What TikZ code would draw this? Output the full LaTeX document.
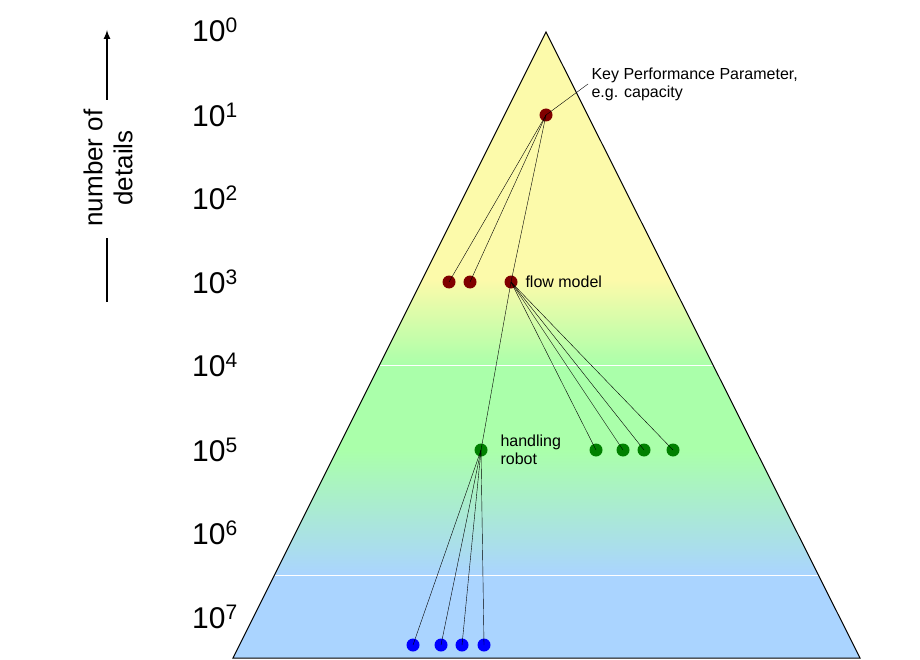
\documentclass[tikz,border=0pt]{standalone}
\usepackage{fontspec}
\setmainfont{Liberation Sans}
\begin{document}
\begin{tikzpicture}[x=1pt,y=-1pt,
  dotr/.style={circle,fill=red!50!black,inner sep=0pt,minimum size=13pt},
  dotg/.style={circle,fill=green!50!black,inner sep=0pt,minimum size=13pt},
  dotb/.style={circle,fill=blue,inner sep=0pt,minimum size=13pt},
  lab/.style={font=\fontsize{16}{18}\selectfont,align=left,anchor=west},
  pw/.style={font=\fontsize{30}{32}\selectfont,anchor=center}]
\useasboundingbox (0,0) rectangle (920,660);
\definecolor{cy}{RGB}{252,250,170}
\definecolor{cg}{RGB}{170,255,170}
\definecolor{cb}{RGB}{170,212,255}
\begin{scope}
\clip (546,32) -- (860,658) -- (233,658) -- cycle;
\fill[cy] (200,30) rectangle (900,281);
\shade[top color=cy,bottom color=cg] (200,280) rectangle (900,366);
\fill[cg] (200,365) rectangle (900,451);
\shade[top color=cg,bottom color=cb] (200,450) rectangle (900,576);
\fill[cb] (200,575) rectangle (900,660);
\draw[white,line width=0.6pt] (200,365) -- (900,365) (200,575) -- (900,575);
\end{scope}
\draw[line width=1pt] (546,32) -- (860,658) -- (233,658) -- cycle;
\foreach \e/\y in {0/30,1/115,2/198,3/282,4/365,5/450,6/533,7/617}
  \node[pw] (p\e) at (215,\y) {10\textsuperscript{\e}};
\node[rotate=90,font=\fontsize{26}{30}\selectfont,align=center] (nd) at (108,168) {number of\\details};
\coordinate (l1) at (107,302); \coordinate (l2) at (107,238);
\coordinate (a1) at (107,100); \coordinate (a2) at (107,30);
\draw[line width=2pt] (l1) -- (l2);
\draw[line width=2pt,-latex] (a1) -- (a2);
\node[dotr] (k) at (546,115) {};
\node[dotr] (r1) at (449,282) {};
\node[dotr] (r2) at (470,282) {};
\node[dotr] (r3) at (511,282) {};
\node[dotg] (h) at (481,450) {};
\node[dotg] (g1) at (596,450) {};
\node[dotg] (g2) at (623,450) {};
\node[dotg] (g3) at (644,450) {};
\node[dotg] (g4) at (673,450) {};
\node[dotb] (b1) at (413,645) {};
\node[dotb] (b2) at (441,645) {};
\node[dotb] (b3) at (462,645) {};
\node[dotb] (b4) at (484,645) {};
\foreach \t in {r1,r2,r3} \draw (k.center) -- (\t.center);
\foreach \t in {h,g1,g2,g3,g4} \draw (r3.center) -- (\t.center);
\foreach \t in {b1,b2,b3,b4} \draw (h.center) -- (\t.center);
\node[lab] (kt) at (588,84) {Key Performance Parameter,\\e.g. capacity};
\draw (k.center) -- (kt.west);
\node[lab] at (522,282) {flow model};
\node[lab] at (497,450) {handling\\robot};
\end{tikzpicture}
\end{document}
